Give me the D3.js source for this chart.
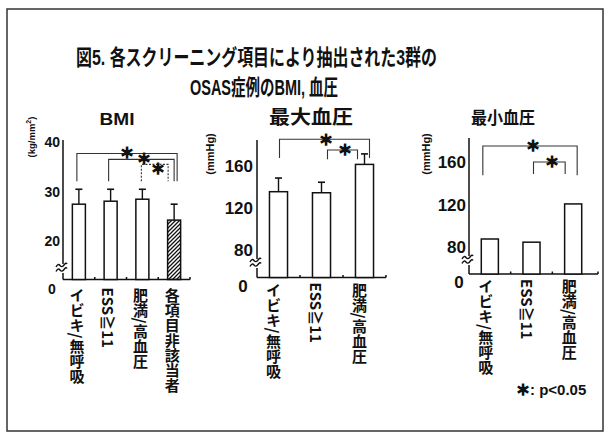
<!DOCTYPE html>
<html>
<head>
<meta charset="utf-8">
<script src="https://cdn.jsdelivr.net/npm/d3@7"></script>
<style>
  html, body { margin: 0; padding: 0; background: #fff; }
  svg text { font-family: "Liberation Sans", "Noto Sans CJK JP", sans-serif; fill: #111; }
  .vlabel { writing-mode: vertical-rl; font-family: "Noto Sans CJK JP", sans-serif; }
  .star { font-family: "Noto Sans CJK JP", sans-serif; stroke: #111; stroke-width: 1.3px; }
</style>
</head>
<body>
<svg id="chart" width="608" height="434"></svg>
<script>
// Groups
const groups3 = ["イビキ/無呼吸", "ESS≧11", "肥満/高血圧"];
const groups4 = ["イビキ/無呼吸", "ESS≧11", "肥満/高血圧", "各項目非該当者"];

// BMI (mean, SD)
const bmiMean = [27.5, 28.1, 28.5, 24.3];
const bmiSD = [3.0, 2.4, 2.0, 3.2];
// Systolic blood pressure (mean, SD)
const sbpMean = [136, 135, 162];
const sbpSD = [13, 10, 10];
// Diastolic blood pressure (mean)
const dbpMean = [88, 85, 121];

const bmiTicks = [20, 30, 40];
const bpTicks = [80, 120, 160];

// Significance brackets: [group a, group b, bar level, leg bottom]
const bmiSig = [[0, 3, 37.7, 32.1], [1, 3, 36.5, 32.1], [2, 3, 35.5, 32.1]];
const sbpSig = [[0, 2, 186, 168], [1, 2, 175.7, 167]];
const dbpSig = [[0, 2, 175.5, 148], [1, 2, 160.5, 149.2]];

const svg = d3.select("#chart");

// hatch for the last BMI bar
svg.append("defs").append("pattern")
  .attr("id", "hatch").attr("patternUnits", "userSpaceOnUse")
  .attr("width", 4).attr("height", 4)
  .append("path")
  .attr("d", "M-1,1 l2,-2 M0,4 l4,-4 M3,5 l2,-2")
  .attr("stroke", "#111").attr("stroke-width", 1.3);

// frame
svg.append("rect").attr("x", 7).attr("y", 9).attr("width", 596).attr("height", 422)
  .attr("fill", "none").attr("stroke", "#333").attr("stroke-width", 1.5);

// figure title
svg.append("text").attr("x", 76).attr("y", 65)
  .attr("font-size", 22).attr("font-weight", "bold")
  .attr("textLength", 361).attr("lengthAdjust", "spacingAndGlyphs")
  .text("図5. 各スクリーニング項目により抽出された3群の");
svg.append("text").attr("x", 190).attr("y", 95)
  .attr("font-size", 22).attr("font-weight", "bold")
  .attr("textLength", 148).attr("lengthAdjust", "spacingAndGlyphs")
  .text("OSAS症例のBMI, 血圧");

function star(g, x, y, size) {
  g.append("text").attr("class", "star").attr("x", x).attr("y", y + size * 0.38)
    .attr("text-anchor", "middle").attr("font-size", size).attr("font-weight", "bold")
    .text("＊");
}

function drawPanel(p) {
  const g = svg.append("g");
  const x = d3.scaleBand().domain(p.cats).range([p.axisX, p.xEnd])
    .paddingInner(p.pad).paddingOuter(p.pad / 2);
  const y = d3.scaleLinear().domain([p.ticks[0], p.ticks[p.ticks.length - 1]])
    .range([p.tickY0, p.tickY1]);

  // panel title
  g.append("text").attr("x", p.titleX).attr("y", p.titleY)
    .attr("text-anchor", "middle").attr("font-size", p.titleSize).attr("font-weight", "bold")
    .attr("textLength", p.titleLen).attr("lengthAdjust", "spacingAndGlyphs")
    .text(p.title);

  // unit label
  g.append("text")
    .attr("transform", `translate(${p.unitX},${p.unitY}) rotate(-90)`)
    .attr("text-anchor", "middle").attr("font-size", p.unitSize).attr("font-weight", "bold")
    .html(p.unit);

  // y axis ticks
  const ax = g.append("g").attr("transform", `translate(${p.axisX},0)`)
    .call(d3.axisLeft(y).tickValues(p.ticks).tickSize(0).tickPadding(p.tickPad));
  ax.select(".domain").remove();
  ax.selectAll("text").attr("font-size", p.tickSize).attr("font-weight", "bold")
    .attr("fill", "#111").attr("font-family", "Liberation Sans, sans-serif");

  // y axis line with break
  g.append("line").attr("x1", p.axisX).attr("x2", p.axisX)
    .attr("y1", p.axisTop).attr("y2", p.breakY - 4)
    .attr("stroke", "#111").attr("stroke-width", 1.5);
  g.append("line").attr("x1", p.axisX).attr("x2", p.axisX)
    .attr("y1", p.breakY + 5).attr("y2", p.baseY)
    .attr("stroke", "#111").attr("stroke-width", 1.5);
  [-2, 2.5].forEach(dy => {
    g.append("path")
      .attr("d", `M${p.axisX - 7},${p.breakY + dy + 1} q2,-4 4,-1.5 t4,-0.5 t3,-1`)
      .attr("fill", "none").attr("stroke", "#111").attr("stroke-width", 1.4);
  });

  // zero label
  g.append("text").attr("x", p.zeroX).attr("y", p.baseY + 14)
    .attr("text-anchor", "middle").attr("font-size", p.tickSize).attr("font-weight", "bold")
    .text("0");

  // x baseline and small ticks between groups
  g.append("line").attr("x1", p.axisX).attr("x2", p.lineEnd)
    .attr("y1", p.baseY).attr("y2", p.baseY)
    .attr("stroke", "#111").attr("stroke-width", 1.5);
  p.cats.slice(1).forEach(c => {
    const bx = x(c) - (x.step() - x.bandwidth()) / 2;
    g.append("line").attr("x1", bx).attr("x2", bx)
      .attr("y1", p.baseY).attr("y2", p.baseY - 2.5)
      .attr("stroke", "#111").attr("stroke-width", 1.5);
  });
  g.append("line").attr("x1", p.lineEnd).attr("x2", p.lineEnd)
    .attr("y1", p.baseY).attr("y2", p.baseY - 2.5)
    .attr("stroke", "#111").attr("stroke-width", 1.5);

  // error bars (upper only)
  if (p.sd) {
    p.cats.forEach((c, i) => {
      const cx = x(c) + x.bandwidth() / 2;
      const top = y(p.mean[i] + p.sd[i]);
      g.append("line").attr("x1", cx).attr("x2", cx)
        .attr("y1", y(p.mean[i])).attr("y2", top)
        .attr("stroke", "#111").attr("stroke-width", 1.4);
      g.append("line").attr("x1", cx - 3.5).attr("x2", cx + 3.5)
        .attr("y1", top).attr("y2", top)
        .attr("stroke", "#111").attr("stroke-width", 1.6);
    });
  }

  // bars
  g.selectAll("rect.bar").data(p.mean).join("rect")
    .attr("class", "bar")
    .attr("x", (d, i) => x(p.cats[i]))
    .attr("width", x.bandwidth())
    .attr("y", d => y(d))
    .attr("height", d => p.baseY - y(d))
    .attr("fill", (d, i) => (p.hatchLast && i === p.cats.length - 1) ? "url(#hatch)" : "#fff")
    .attr("stroke", "#111").attr("stroke-width", 1.5);

  // category labels, vertical
  p.cats.forEach((c, i) => {
    g.append("text").attr("class", "vlabel")
      .attr("x", x(c) + x.bandwidth() / 2 - p.labelShift)
      .attr("y", p.baseY + p.labelGap)
      .attr("font-size", p.labelSize).attr("font-weight", "bold")
      .text(c);
  });

  // significance brackets
  p.sig.forEach(([a, b, lvl, leg], k) => {
    const xa = x(p.cats[a]) + x.bandwidth() / 2 + p.sigOffA[k];
    const xb = x(p.cats[b]) + x.bandwidth() / 2 + p.sigOffB[k];
    g.append("path")
      .attr("d", `M${xa},${y(leg)} V${y(lvl)} H${xb} V${y(leg)}`)
      .attr("fill", "none").attr("stroke", "#333").attr("stroke-width", 1.1)
      .attr("stroke-dasharray", p.sigDash[k]);
    star(g, p.starX[k], y(lvl) + p.starDy[k], 14);
  });
}

drawPanel({
  cats: groups4, mean: bmiMean, sd: bmiSD, ticks: bmiTicks, hatchLast: true,
  axisX: 63, xEnd: 190, lineEnd: 190, pad: 0.59,
  tickY0: 241.5, tickY1: 142, axisTop: 140, baseY: 279.5, breakY: 268,
  title: "BMI", titleX: 117, titleY: 125, titleSize: 17, titleLen: 35,
  unit: "(kg/mm<tspan dy='-4' font-size='7'>2</tspan><tspan dy='4'>)</tspan>", unitX: 35, unitY: 137, unitSize: 9.5,
  tickSize: 14, tickPad: 3, zeroX: 52,
  labelShift: 2, labelGap: 8, labelSize: 15,
  sig: bmiSig, sigOffA: [-2, -2, -1], sigOffB: [3, 0, -6], sigDash: [null, null, "2,1.5"],
  starX: [127, 144, 158], starDy: [-1, -1, 4]
});

drawPanel({
  cats: groups3, mean: sbpMean, sd: sbpSD, ticks: bpTicks, hatchLast: false,
  axisX: 257, xEnd: 386, lineEnd: 386, pad: 0.58,
  tickY0: 250.5, tickY1: 166.5, axisTop: 140, baseY: 277.5, breakY: 263,
  title: "最大血圧", titleX: 311, titleY: 124, titleSize: 19, titleLen: 84,
  unit: "(mmHg)", unitX: 214, unitY: 154, unitSize: 11,
  tickSize: 17, tickPad: 4, zeroX: 243,
  labelShift: 5, labelGap: 5, labelSize: 15,
  sig: sbpSig, sigOffA: [1, 6], sigOffB: [5, -7], sigDash: [null, null],
  starX: [326, 345], starDy: [0, 0]
});

drawPanel({
  cats: groups3, mean: dbpMean, sd: null, ticks: bpTicks, hatchLast: false,
  axisX: 469, xEnd: 594, lineEnd: 598, pad: 0.59,
  tickY0: 247.5, tickY1: 162.5, axisTop: 138, baseY: 274, breakY: 260,
  title: "最小血圧", titleX: 503, titleY: 124, titleSize: 17, titleLen: 64,
  unit: "(mmHg)", unitX: 430, unitY: 154, unitSize: 11,
  tickSize: 17, tickPad: 3, zeroX: 459,
  labelShift: 4, labelGap: 5, labelSize: 15,
  sig: dbpSig, sigOffA: [-7, 2], sigOffB: [4, -8], sigDash: [null, null],
  starX: [533, 552], starDy: [0, 0]
});

// legend
const lg = svg.append("text").attr("x", 516).attr("y", 395)
  .attr("font-size", 15).attr("font-weight", "bold");
lg.append("tspan").attr("class", "star").attr("font-size", 14).text("＊");
lg.append("tspan").text(": p<0.05");
</script>
</body>
</html>
